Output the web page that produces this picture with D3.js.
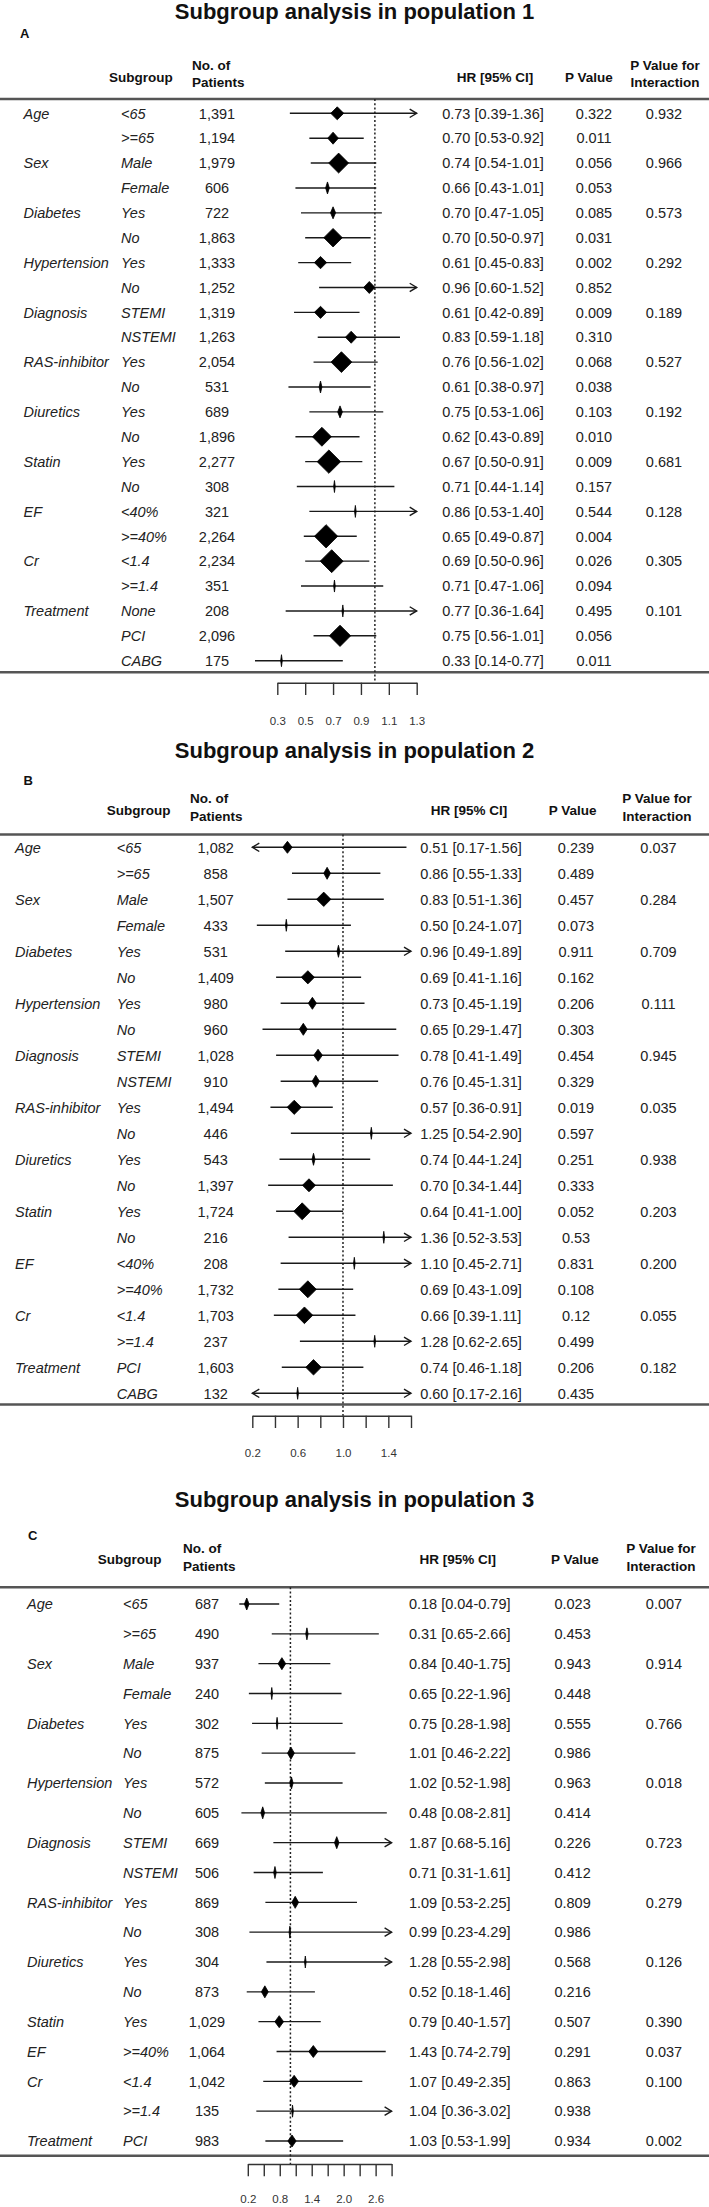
<!DOCTYPE html>
<html><head><meta charset="utf-8">
<script src="https://cdn.jsdelivr.net/npm/d3@7"></script>
<style>
body{margin:0;background:#fff}
svg{display:block}
text{font-family:"Liberation Sans",Arial,Helvetica,sans-serif}
</style>
</head><body>
<svg id="c" width="709" height="2207"></svg>
<script>
// ---------------- DATA ----------------
// Panel 1
const group1 = ["Age","","Sex","","Diabetes","","Hypertension","","Diagnosis","","RAS-inhibitor","","Diuretics","","Statin","","EF","","Cr","","Treatment","",""];
const sub1 = ["<65",">=65","Male","Female","Yes","No","Yes","No","STEMI","NSTEMI","Yes","No","Yes","No","Yes","No","<40%",">=40%","<1.4",">=1.4","None","PCI","CABG"];
const n1 = [1391,1194,1979,606,722,1863,1333,1252,1319,1263,2054,531,689,1896,2277,308,321,2264,2234,351,208,2096,175];
const hr1 = [0.73,0.70,0.74,0.66,0.70,0.70,0.61,0.96,0.61,0.83,0.76,0.61,0.75,0.62,0.67,0.71,0.86,0.65,0.69,0.71,0.77,0.75,0.33];
const lo1 = [0.39,0.53,0.54,0.43,0.47,0.50,0.45,0.60,0.42,0.59,0.56,0.38,0.53,0.43,0.50,0.44,0.53,0.49,0.50,0.47,0.36,0.56,0.14];
const hi1 = [1.36,0.92,1.01,1.01,1.05,0.97,0.83,1.52,0.89,1.18,1.02,0.97,1.06,0.89,0.91,1.14,1.40,0.87,0.96,1.06,1.64,1.01,0.77];
const p1 = ["0.322","0.011","0.056","0.053","0.085","0.031","0.002","0.852","0.009","0.310","0.068","0.038","0.103","0.010","0.009","0.157","0.544","0.004","0.026","0.094","0.495","0.056","0.011"];
const pint1 = ["0.932","","0.966","","0.573","","0.292","","0.189","","0.527","","0.192","","0.681","","0.128","","0.305","","0.101","",""];
const ticks1 = [0.3,0.5,0.7,0.9,1.1,1.3];
const tickLabels1 = [0.3,0.5,0.7,0.9,1.1,1.3];

// Panel 2
const group2 = ["Age","","Sex","","Diabetes","","Hypertension","","Diagnosis","","RAS-inhibitor","","Diuretics","","Statin","","EF","","Cr","","Treatment",""];
const sub2 = ["<65",">=65","Male","Female","Yes","No","Yes","No","STEMI","NSTEMI","Yes","No","Yes","No","Yes","No","<40%",">=40%","<1.4",">=1.4","PCI","CABG"];
const n2 = [1082,858,1507,433,531,1409,980,960,1028,910,1494,446,543,1397,1724,216,208,1732,1703,237,1603,132];
const hr2 = [0.51,0.86,0.83,0.50,0.96,0.69,0.73,0.65,0.78,0.76,0.57,1.25,0.74,0.70,0.64,1.36,1.10,0.69,0.66,1.28,0.74,0.60];
const lo2 = [0.17,0.55,0.51,0.24,0.49,0.41,0.45,0.29,0.41,0.45,0.36,0.54,0.44,0.34,0.41,0.52,0.45,0.43,0.39,0.62,0.46,0.17];
const hi2 = [1.56,1.33,1.36,1.07,1.89,1.16,1.19,1.47,1.49,1.31,0.91,2.90,1.24,1.44,1.00,3.53,2.71,1.09,1.11,2.65,1.18,2.16];
const p2 = ["0.239","0.489","0.457","0.073","0.911","0.162","0.206","0.303","0.454","0.329","0.019","0.597","0.251","0.333","0.052","0.53","0.831","0.108","0.12","0.499","0.206","0.435"];
const pint2 = ["0.037","","0.284","","0.709","","0.111","","0.945","","0.035","","0.938","","0.203","","0.200","","0.055","","0.182",""];
const ticks2 = [0.2,0.4,0.6,0.8,1.0,1.2,1.4,1.6];
const tickLabels2 = [0.2,0.6,1.0,1.4];

// Panel 3
const group3 = ["Age","","Sex","","Diabetes","","Hypertension","","Diagnosis","","RAS-inhibitor","","Diuretics","","Statin","EF","Cr","","Treatment"];
const sub3 = ["<65",">=65","Male","Female","Yes","No","Yes","No","STEMI","NSTEMI","Yes","No","Yes","No","Yes",">=40%","<1.4",">=1.4","PCI"];
const n3 = [687,490,937,240,302,875,572,605,669,506,869,308,304,873,1029,1064,1042,135,983];
const hr3 = [0.18,1.31,0.84,0.65,0.75,1.01,1.02,0.48,1.87,0.71,1.09,0.99,1.28,0.52,0.79,1.43,1.07,1.04,1.03];
const hrPrinted3 = [0.18,0.31,0.84,0.65,0.75,1.01,1.02,0.48,1.87,0.71,1.09,0.99,1.28,0.52,0.79,1.43,1.07,1.04,1.03];
const lo3 = [0.04,0.65,0.40,0.22,0.28,0.46,0.52,0.08,0.68,0.31,0.53,0.23,0.55,0.18,0.40,0.74,0.49,0.36,0.53];
const hi3 = [0.79,2.66,1.75,1.96,1.98,2.22,1.98,2.81,5.16,1.61,2.25,4.29,2.98,1.46,1.57,2.79,2.35,3.02,1.99];
const p3 = ["0.023","0.453","0.943","0.448","0.555","0.986","0.963","0.414","0.226","0.412","0.809","0.986","0.568","0.216","0.507","0.291","0.863","0.938","0.934"];
const pint3 = ["0.007","","0.914","","0.766","","0.018","","0.723","","0.279","","0.126","","0.390","0.037","0.100","","0.002"];
const ticks3 = [0.2,0.5,0.8,1.1,1.4,1.7,2.0,2.3,2.6,2.9];
const tickLabels3 = [0.2,0.8,1.4,2.0,2.6];

// ---------------- LAYOUT ----------------
const panels = [
  {title:"Subgroup analysis in population 1", letter:"A", group:group1, sub:sub1, n:n1, hr:hr1, hrPrint:hr1, lo:lo1, hi:hi1, p:p1, pint:pint1,
   ticks:ticks1, tickLabels:tickLabels1, clip:[0.1,1.3],
   L:{titleY:19, letterX:20, letterY:33, hdrY:[70,87,82], hdrLine:99, rows:[113.3,660.7], bottom:672.3, axisY:682.7, labelY:721,
      xr:[277.3,416.7], col:{grp:23.5, sub:121, n:217, ci:493, p:594, pint:664}, hdr:{sub:140.8, n:192, ci:495, p:589, pint:665}}},
  {title:"Subgroup analysis in population 2", letter:"B", group:group2, sub:sub2, n:n2, hr:hr2, hrPrint:hr2, lo:lo2, hi:hi2, p:p2, pint:pint2,
   ticks:ticks2, tickLabels:tickLabels2, clip:[0.2,1.6],
   L:{titleY:758.3, letterX:23.5, letterY:780, hdrY:[803.3,821,815], hdrLine:834.5, rows:[847.3,1393.3], bottom:1404.5, axisY:1415.7, labelY:1453,
      xr:[252.3,411], col:{grp:15, sub:116.7, n:215.7, ci:471, p:576, pint:658.5}, hdr:{sub:138.6, n:190, ci:469, p:572.6, pint:657}}},
  {title:"Subgroup analysis in population 3", letter:"C", group:group3, sub:sub3, n:n3, hr:hr3, hrPrint:hrPrinted3, lo:lo3, hi:hi3, p:p3, pint:pint3,
   ticks:ticks3, tickLabels:tickLabels3, clip:[0.0,2.9],
   L:{titleY:1507, letterX:28, letterY:1535, hdrY:[1553.3,1570.7,1564.3], hdrLine:1587.3, rows:[1604,2141], bottom:2155.7, axisY:2164, labelY:2199,
      xr:[247.8,391.6], col:{grp:27, sub:123, n:207, ci:459.7, p:572.6, pint:664}, hdr:{sub:129.6, n:183, ci:457.8, p:575, pint:661}}}
];

const svg = d3.select("#c");
const W = 709;
const TXT = "#222", INK = "#1a1a1a";
const f2 = d3.format(".2f");

panels.forEach(P => {
  const L = P.L;
  const g = svg.append("g");
  // title
  g.append("text").attr("x", W/2).attr("y", L.titleY).attr("text-anchor","middle")
    .attr("font-size",22).attr("font-weight","bold").attr("fill","#111").text(P.title);
  g.append("text").attr("x", L.letterX).attr("y", L.letterY).attr("dy","0.36em")
    .attr("font-size",13).attr("font-weight","bold").attr("fill","#111").text(P.letter);
  // headers
  const H = (t, x, y, anchor) => g.append("text").attr("x",x).attr("y",y).attr("text-anchor",anchor)
      .attr("font-size",13.5).attr("font-weight","bold").attr("fill","#111").text(t);
  H("Subgroup", L.hdr.sub, L.hdrY[2], "middle");
  H("No. of", L.hdr.n, L.hdrY[0], "start");
  H("Patients", L.hdr.n, L.hdrY[1], "start");
  H("HR [95% CI]", L.hdr.ci, L.hdrY[2], "middle");
  H("P Value", L.hdr.p, L.hdrY[2], "middle");
  H("P Value for", L.hdr.pint, L.hdrY[0], "middle");
  H("Interaction", L.hdr.pint, L.hdrY[1], "middle");
  // horizontal rules
  [L.hdrLine, L.bottom].forEach(yy => g.append("line").attr("x1",0).attr("x2",W).attr("y1",yy).attr("y2",yy)
      .attr("stroke","#555").attr("stroke-width",2.4));

  const x = d3.scaleLinear().domain(d3.extent(P.ticks)).range(L.xr);
  const y = d3.scalePoint().domain(d3.range(P.sub.length)).range(L.rows);

  // reference line at 1
  g.append("line").attr("x1",x(1)).attr("x2",x(1)).attr("y1",L.hdrLine).attr("y2",L.axisY)
    .attr("stroke","#222").attr("stroke-width",1.5).attr("stroke-dasharray","2,2.2");

  // text columns
  const T = (arr, x0, anchor, italic) => g.append("g").selectAll("text").data(arr).join("text")
      .attr("x", x0).attr("y", (d,i) => y(i)).attr("dy","0.36em").attr("text-anchor",anchor)
      .attr("font-size",14.5).attr("font-style", italic ? "italic" : "normal").attr("fill",TXT).text(d => d);
  T(P.group, L.col.grp, "start", true);
  T(P.sub, L.col.sub, "start", true);
  T(P.n.map(d3.format(",")), L.col.n, "middle", false);
  T(P.hrPrint.map((h,i) => `${f2(h)} [${f2(P.lo[i])}-${f2(P.hi[i])}]`), L.col.ci, "middle", false);
  T(P.p, L.col.p, "middle", false);
  T(P.pint, L.col.pint, "middle", false);

  // CI lines + arrows
  const rows = d3.range(P.sub.length);
  const ci = g.append("g").attr("stroke",INK).attr("stroke-width",1.4).attr("fill","none");
  rows.forEach(i => {
    const a = Math.max(P.lo[i], P.clip[0]), b = Math.min(P.hi[i], P.clip[1]);
    const yy = y(i);
    ci.append("line").attr("x1",x(a)).attr("x2",x(b)).attr("y1",yy).attr("y2",yy);
    if (P.hi[i] > P.clip[1]) {
      const xe = x(P.clip[1]);
      ci.append("path").attr("d",`M${xe-7},${yy-4.2}L${xe},${yy}L${xe-7},${yy+4.2}`);
    }
    if (P.lo[i] < P.clip[0]) {
      const xs = x(P.clip[0]);
      ci.append("path").attr("d",`M${xs+7},${yy-4.2}L${xs},${yy}L${xs+7},${yy+4.2}`);
    }
  });
  // diamonds sized by number of patients
  g.append("g").selectAll("path").data(rows).join("path")
    .attr("d", i => {
      const w = Math.max(1.6, 0.0118*(P.n[i]-290));
      const h = Math.max(w, 12);
      const cx = x(P.hr[i]), cy = y(i);
      return `M${cx-w/2},${cy}L${cx},${cy-h/2}L${cx+w/2},${cy}L${cx},${cy+h/2}Z`;
    })
    .attr("fill","#000").attr("stroke","#000").attr("stroke-width",0.8).attr("stroke-linejoin","miter");

  // axis
  const tickLen = 12.3;
  const axis = d3.axisBottom(x).tickValues(P.ticks).tickSize(tickLen).tickSizeOuter(0)
    .tickPadding(L.labelY - L.axisY - tickLen - 4)
    .tickFormat(d => P.tickLabels.includes(d) ? d3.format(".1f")(d) : "");
  const ax = g.append("g").attr("transform",`translate(0,${L.axisY})`).call(axis);
  ax.select(".domain").attr("stroke","#333").attr("stroke-width",1.4);
  ax.selectAll(".tick line").attr("stroke","#333").attr("stroke-width",1.4);
  ax.selectAll(".tick text").attr("font-size",11.5).attr("fill","#333")
    .attr("font-family","'Liberation Sans',Arial,sans-serif");
});
</script>
</body></html>
